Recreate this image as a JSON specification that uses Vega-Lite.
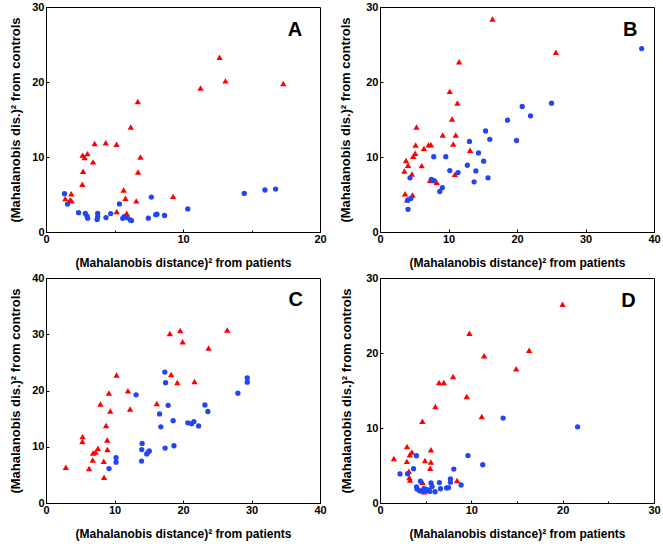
{
  "$schema": "https://vega.github.io/schema/vega-lite/v6.json",
  "background": "white",
  "padding": {"left": 8, "top": 0, "right": 5, "bottom": 5},
  "columns": 2,
  "spacing": {"row": 46, "column": 60},
  "bounds": "flush",
  "config": {
    "font": "Liberation Sans",
    "view": {"stroke": "#000000", "strokeWidth": 1},
    "axis": {
      "grid": false,
      "domainColor": "#000000",
      "domainWidth": 1,
      "tickColor": "#000000",
      "labelFont": "Liberation Sans",
      "labelFontWeight": "bold",
      "labelFontSize": 11,
      "labelColor": "#000000",
      "labelFlush": false,
      "labelOverlap": false,
      "titleFont": "Liberation Sans",
      "titleFontWeight": "bold",
      "titleColor": "#000000",
      "labelExpr": "datum.value % 10 === 0 ? datum.label : ''"
    },
    "axisX": {"titleFontSize": 12, "titleBaseline": "middle", "titleY": 30, "titleX": 137, "labelPadding": 4},
    "axisY": {"titleFontSize": 13, "titleBaseline": "middle", "titleY": 112.5, "labelPadding": 5}
  },
  "datasets": {
    "A": [
      {"x":1.41,"y":4.45,"g":"patients"},{"x":1.85,"y":5.1,"g":"patients"},{"x":1.76,"y":4.3,"g":"patients"},{"x":1.87,"y":4.15,"g":"patients"},
      {"x":2.65,"y":6.37,"g":"patients"},{"x":2.71,"y":8.1,"g":"patients"},{"x":2.67,"y":10.25,"g":"patients"},{"x":2.82,"y":9.93,"g":"patients"},
      {"x":3.03,"y":10.45,"g":"patients"},{"x":3.44,"y":9.35,"g":"patients"},{"x":3.55,"y":11.8,"g":"patients"},{"x":4.36,"y":11.9,"g":"patients"},
      {"x":5.15,"y":11.7,"g":"patients"},{"x":6.19,"y":14.0,"g":"patients"},{"x":6.7,"y":17.4,"g":"patients"},{"x":6.89,"y":10.0,"g":"patients"},
      {"x":6.72,"y":8.0,"g":"patients"},{"x":5.67,"y":5.6,"g":"patients"},{"x":5.8,"y":4.5,"g":"patients"},{"x":6.59,"y":4.15,"g":"patients"},
      {"x":5.16,"y":2.72,"g":"patients"},{"x":5.89,"y":2.5,"g":"patients"},{"x":9.28,"y":4.75,"g":"patients"},{"x":11.28,"y":19.2,"g":"patients"},
      {"x":12.67,"y":23.3,"g":"patients"},{"x":13.1,"y":20.15,"g":"patients"},{"x":17.32,"y":19.8,"g":"patients"},
      {"x":1.35,"y":5.1,"g":"controls"},{"x":1.57,"y":3.73,"g":"controls"},{"x":2.38,"y":2.58,"g":"controls"},{"x":2.87,"y":2.47,"g":"controls"},
      {"x":3.0,"y":2.1,"g":"controls"},{"x":3.04,"y":1.85,"g":"controls"},{"x":3.77,"y":2.49,"g":"controls"},{"x":3.77,"y":2.02,"g":"controls"},
      {"x":3.73,"y":1.67,"g":"controls"},{"x":4.38,"y":1.93,"g":"controls"},{"x":4.72,"y":2.46,"g":"controls"},{"x":5.36,"y":3.75,"g":"controls"},
      {"x":5.6,"y":1.82,"g":"controls"},{"x":5.7,"y":2.05,"g":"controls"},{"x":5.94,"y":1.91,"g":"controls"},{"x":6.16,"y":1.6,"g":"controls"},
      {"x":6.24,"y":1.52,"g":"controls"},{"x":7.47,"y":1.85,"g":"controls"},{"x":7.69,"y":4.66,"g":"controls"},{"x":8.01,"y":2.31,"g":"controls"},
      {"x":8.1,"y":2.38,"g":"controls"},{"x":8.65,"y":2.2,"g":"controls"},{"x":10.35,"y":3.08,"g":"controls"},{"x":14.47,"y":5.15,"g":"controls"},
      {"x":15.98,"y":5.6,"g":"controls"},{"x":16.76,"y":5.73,"g":"controls"}
    ],
    "B": [
      {"x":3.56,"y":8.13,"g":"patients"},{"x":3.8,"y":9.52,"g":"patients"},{"x":4.09,"y":8.9,"g":"patients"},{"x":4.66,"y":7.72,"g":"patients"},
      {"x":5.33,"y":14.0,"g":"patients"},{"x":5.2,"y":11.6,"g":"patients"},{"x":5.14,"y":10.5,"g":"patients"},{"x":4.85,"y":10.1,"g":"patients"},
      {"x":6.41,"y":11.15,"g":"patients"},{"x":6.09,"y":8.85,"g":"patients"},{"x":7.1,"y":11.63,"g":"patients"},{"x":7.44,"y":11.63,"g":"patients"},
      {"x":7.3,"y":6.9,"g":"patients"},{"x":7.55,"y":6.85,"g":"patients"},{"x":8.28,"y":6.64,"g":"patients"},{"x":9.16,"y":12.93,"g":"patients"},
      {"x":10.18,"y":18.75,"g":"patients"},{"x":10.52,"y":15.07,"g":"patients"},{"x":10.7,"y":11.72,"g":"patients"},{"x":11.06,"y":12.92,"g":"patients"},
      {"x":10.94,"y":7.7,"g":"patients"},{"x":11.3,"y":17.2,"g":"patients"},{"x":11.55,"y":22.7,"g":"patients"},{"x":13.15,"y":10.9,"g":"patients"},
      {"x":16.42,"y":28.4,"g":"patients"},{"x":25.68,"y":23.97,"g":"patients"},{"x":3.66,"y":5.1,"g":"patients"},{"x":4.75,"y":4.93,"g":"patients"},
      {"x":3.95,"y":4.3,"g":"patients"},
      {"x":4.09,"y":3.02,"g":"controls"},{"x":4.05,"y":4.24,"g":"controls"},{"x":4.5,"y":4.48,"g":"controls"},{"x":4.38,"y":7.23,"g":"controls"},
      {"x":7.5,"y":7.0,"g":"controls"},{"x":7.9,"y":6.86,"g":"controls"},{"x":7.85,"y":10.05,"g":"controls"},{"x":8.73,"y":5.4,"g":"controls"},
      {"x":9.1,"y":5.93,"g":"controls"},{"x":9.6,"y":10.04,"g":"controls"},{"x":10.19,"y":8.19,"g":"controls"},{"x":11.4,"y":7.93,"g":"controls"},
      {"x":12.75,"y":8.9,"g":"controls"},{"x":13.06,"y":12.08,"g":"controls"},{"x":13.74,"y":6.69,"g":"controls"},{"x":13.99,"y":8.15,"g":"controls"},
      {"x":14.38,"y":10.55,"g":"controls"},{"x":15.13,"y":9.45,"g":"controls"},{"x":15.41,"y":13.48,"g":"controls"},{"x":15.77,"y":7.22,"g":"controls"},
      {"x":16.03,"y":12.36,"g":"controls"},{"x":18.62,"y":14.91,"g":"controls"},{"x":19.93,"y":12.2,"g":"controls"},{"x":20.76,"y":16.74,"g":"controls"},
      {"x":21.97,"y":15.49,"g":"controls"},{"x":25.04,"y":17.18,"g":"controls"},{"x":38.2,"y":24.46,"g":"controls"}
    ],
    "C": [
      {"x":2.9,"y":6.36,"g":"patients"},{"x":5.34,"y":11.8,"g":"patients"},{"x":5.31,"y":10.94,"g":"patients"},{"x":6.29,"y":6.12,"g":"patients"},
      {"x":6.82,"y":7.66,"g":"patients"},{"x":6.87,"y":8.9,"g":"patients"},{"x":7.23,"y":9.05,"g":"patients"},{"x":7.58,"y":9.73,"g":"patients"},
      {"x":8.43,"y":7.43,"g":"patients"},{"x":8.48,"y":4.56,"g":"patients"},{"x":8.77,"y":13.79,"g":"patients"},{"x":8.94,"y":11.21,"g":"patients"},
      {"x":8.97,"y":9.5,"g":"patients"},{"x":7.94,"y":17.62,"g":"patients"},{"x":9.18,"y":19.54,"g":"patients"},{"x":9.38,"y":16.35,"g":"patients"},
      {"x":10.3,"y":22.76,"g":"patients"},{"x":11.96,"y":19.94,"g":"patients"},{"x":12.28,"y":16.72,"g":"patients"},{"x":16.18,"y":17.69,"g":"patients"},
      {"x":18.08,"y":30.14,"g":"patients"},{"x":18.27,"y":22.85,"g":"patients"},{"x":19.59,"y":30.67,"g":"patients"},{"x":19.95,"y":28.67,"g":"patients"},
      {"x":19.17,"y":21.41,"g":"patients"},{"x":21.68,"y":21.6,"g":"patients"},{"x":23.73,"y":27.57,"g":"patients"},{"x":26.46,"y":30.77,"g":"patients"},
      {"x":9.2,"y":6.12,"g":"controls"},{"x":10.23,"y":8.08,"g":"controls"},{"x":10.23,"y":7.25,"g":"controls"},{"x":13.15,"y":19.23,"g":"controls"},
      {"x":13.95,"y":7.46,"g":"controls"},{"x":13.98,"y":9.5,"g":"controls"},{"x":14.03,"y":10.59,"g":"controls"},{"x":14.7,"y":8.73,"g":"controls"},
      {"x":14.93,"y":9.05,"g":"controls"},{"x":15.08,"y":9.26,"g":"controls"},{"x":16.58,"y":15.83,"g":"controls"},{"x":16.76,"y":13.55,"g":"controls"},
      {"x":17.34,"y":23.28,"g":"controls"},{"x":17.46,"y":21.38,"g":"controls"},{"x":17.39,"y":9.76,"g":"controls"},{"x":17.83,"y":17.37,"g":"controls"},
      {"x":18.56,"y":14.64,"g":"controls"},{"x":18.68,"y":10.18,"g":"controls"},{"x":20.7,"y":14.26,"g":"controls"},{"x":21.24,"y":14.11,"g":"controls"},
      {"x":21.6,"y":14.47,"g":"controls"},{"x":22.28,"y":13.7,"g":"controls"},{"x":23.2,"y":17.42,"g":"controls"},{"x":23.63,"y":16.27,"g":"controls"},
      {"x":28.01,"y":19.53,"g":"controls"},{"x":29.38,"y":22.25,"g":"controls"},{"x":29.38,"y":21.48,"g":"controls"}
    ],
    "D": [
      {"x":1.52,"y":5.92,"g":"patients"},{"x":2.96,"y":7.52,"g":"patients"},{"x":2.94,"y":5.55,"g":"patients"},{"x":3.26,"y":6.43,"g":"patients"},
      {"x":3.49,"y":6.79,"g":"patients"},{"x":3.16,"y":4.24,"g":"patients"},{"x":3.22,"y":3.4,"g":"patients"},{"x":3.29,"y":3.05,"g":"patients"},
      {"x":4.64,"y":10.9,"g":"patients"},{"x":4.66,"y":2.78,"g":"patients"},{"x":4.84,"y":1.5,"g":"patients"},{"x":4.93,"y":5.68,"g":"patients"},
      {"x":5.58,"y":7.1,"g":"patients"},{"x":5.57,"y":5.46,"g":"patients"},{"x":5.5,"y":4.62,"g":"patients"},{"x":6.06,"y":12.87,"g":"patients"},
      {"x":6.47,"y":16.07,"g":"patients"},{"x":6.98,"y":16.07,"g":"patients"},{"x":8.0,"y":16.87,"g":"patients"},{"x":8.44,"y":3.0,"g":"patients"},
      {"x":9.5,"y":14.2,"g":"patients"},{"x":9.79,"y":22.64,"g":"patients"},{"x":11.14,"y":11.54,"g":"patients"},{"x":11.4,"y":19.62,"g":"patients"},
      {"x":14.91,"y":17.89,"g":"patients"},{"x":16.33,"y":20.37,"g":"patients"},{"x":19.99,"y":26.5,"g":"patients"},
      {"x":2.19,"y":3.88,"g":"controls"},{"x":3.02,"y":3.9,"g":"controls"},{"x":3.67,"y":4.57,"g":"controls"},{"x":3.99,"y":6.3,"g":"controls"},
      {"x":4.0,"y":2.15,"g":"controls"},{"x":4.07,"y":1.84,"g":"controls"},{"x":4.33,"y":1.62,"g":"controls"},{"x":4.55,"y":1.6,"g":"controls"},
      {"x":4.43,"y":2.9,"g":"controls"},{"x":4.82,"y":1.93,"g":"controls"},{"x":5.06,"y":1.8,"g":"controls"},{"x":4.95,"y":1.55,"g":"controls"},
      {"x":5.34,"y":1.71,"g":"controls"},{"x":5.45,"y":1.55,"g":"controls"},{"x":5.59,"y":2.68,"g":"controls"},{"x":5.7,"y":2.2,"g":"controls"},
      {"x":6.03,"y":1.5,"g":"controls"},{"x":6.5,"y":2.72,"g":"controls"},{"x":6.62,"y":1.9,"g":"controls"},{"x":7.29,"y":2.0,"g":"controls"},
      {"x":7.51,"y":2.06,"g":"controls"},{"x":7.71,"y":3.2,"g":"controls"},{"x":7.71,"y":2.78,"g":"controls"},{"x":8.08,"y":4.53,"g":"controls"},
      {"x":8.88,"y":2.4,"g":"controls"},{"x":9.63,"y":6.32,"g":"controls"},{"x":11.25,"y":5.1,"g":"controls"},{"x":13.48,"y":11.32,"g":"controls"},
      {"x":21.63,"y":10.16,"g":"controls"}
    ]
  },
  "concat": [
    {
      "width": 274, "height": 225,
      "layer": [
        {
          "data": {"name": "A"},
          "mark": {"type": "point", "filled": true, "opacity": 1, "strokeWidth": 0},
          "encoding": {
            "x": {"field": "x", "type": "quantitative", "scale": {"domain": [0, 20], "nice": false},
                  "axis": {"title": "(Mahalanobis distance)² from patients", "values": [0,5,10,15,20],
                           "tickSize": {"condition": {"test": "datum.value % 10 === 0", "value": -3}, "value": -2}}},
            "y": {"field": "y", "type": "quantitative", "scale": {"domain": [0, 30], "nice": false},
                  "axis": {"title": "(Mahalanobis dis.)² from controls", "values": [0,5,10,15,20,25,30], "titleX": -31,
                           "tickSize": {"condition": {"test": "datum.value % 10 === 0", "value": -3}, "value": -2}}},
            "color": {"field": "g", "type": "nominal", "scale": {"domain": ["patients", "controls"], "range": ["#FF0000", "#2346F5"]}, "legend": null},
            "shape": {"field": "g", "type": "nominal", "scale": {"domain": ["patients", "controls"], "range": ["triangle-up", "circle"]}, "legend": null},
            "size": {"field": "g", "type": "ordinal", "scale": {"domain": ["patients", "controls"], "range": [40, 28]}, "legend": null}
          }
        },
        {
          "data": {"values": [{"t": "A"}]},
          "mark": {"type": "text", "align": "right", "baseline": "alphabetic", "fontSize": 20, "fontWeight": "bold", "font": "Liberation Sans", "color": "#000000"},
          "encoding": {"text": {"field": "t"}, "x": {"datum": 18.7}, "y": {"datum": 26.1}}
        }
      ]
    },
    {
      "width": 274, "height": 225,
      "layer": [
        {
          "data": {"name": "B"},
          "mark": {"type": "point", "filled": true, "opacity": 1, "strokeWidth": 0},
          "encoding": {
            "x": {"field": "x", "type": "quantitative", "scale": {"domain": [0, 40], "nice": false},
                  "axis": {"title": "(Mahalanobis distance)² from patients", "values": [0,5,10,15,20,25,30,35,40],
                           "tickSize": {"condition": {"test": "datum.value % 10 === 0", "value": -3}, "value": -2}}},
            "y": {"field": "y", "type": "quantitative", "scale": {"domain": [0, 30], "nice": false},
                  "axis": {"title": "(Mahalanobis dis.)² from controls", "values": [0,5,10,15,20,25,30], "titleX": -35,
                           "tickSize": {"condition": {"test": "datum.value % 10 === 0", "value": -3}, "value": -2}}},
            "color": {"field": "g", "type": "nominal", "scale": {"domain": ["patients", "controls"], "range": ["#FF0000", "#2346F5"]}, "legend": null},
            "shape": {"field": "g", "type": "nominal", "scale": {"domain": ["patients", "controls"], "range": ["triangle-up", "circle"]}, "legend": null},
            "size": {"field": "g", "type": "ordinal", "scale": {"domain": ["patients", "controls"], "range": [40, 28]}, "legend": null}
          }
        },
        {
          "data": {"values": [{"t": "B"}]},
          "mark": {"type": "text", "align": "right", "baseline": "alphabetic", "fontSize": 20, "fontWeight": "bold", "font": "Liberation Sans", "color": "#000000"},
          "encoding": {"text": {"field": "t"}, "x": {"datum": 37.6}, "y": {"datum": 26.1}}
        }
      ]
    },
    {
      "width": 274, "height": 225,
      "layer": [
        {
          "data": {"name": "C"},
          "mark": {"type": "point", "filled": true, "opacity": 1, "strokeWidth": 0},
          "encoding": {
            "x": {"field": "x", "type": "quantitative", "scale": {"domain": [0, 40], "nice": false},
                  "axis": {"title": "(Mahalanobis distance)² from patients", "values": [0,5,10,15,20,25,30,35,40],
                           "tickSize": {"condition": {"test": "datum.value % 10 === 0", "value": -3}, "value": -2}}},
            "y": {"field": "y", "type": "quantitative", "scale": {"domain": [0, 40], "nice": false},
                  "axis": {"title": "(Mahalanobis dis.)² from controls", "values": [0,5,10,15,20,25,30,35,40], "titleX": -31,
                           "tickSize": {"condition": {"test": "datum.value % 10 === 0", "value": -3}, "value": -2}}},
            "color": {"field": "g", "type": "nominal", "scale": {"domain": ["patients", "controls"], "range": ["#FF0000", "#2346F5"]}, "legend": null},
            "shape": {"field": "g", "type": "nominal", "scale": {"domain": ["patients", "controls"], "range": ["triangle-up", "circle"]}, "legend": null},
            "size": {"field": "g", "type": "ordinal", "scale": {"domain": ["patients", "controls"], "range": [40, 28]}, "legend": null}
          }
        },
        {
          "data": {"values": [{"t": "C"}]},
          "mark": {"type": "text", "align": "right", "baseline": "alphabetic", "fontSize": 20, "fontWeight": "bold", "font": "Liberation Sans", "color": "#000000"},
          "encoding": {"text": {"field": "t"}, "x": {"datum": 37.5}, "y": {"datum": 35.0}}
        }
      ]
    },
    {
      "width": 274, "height": 225,
      "layer": [
        {
          "data": {"name": "D"},
          "mark": {"type": "point", "filled": true, "opacity": 1, "strokeWidth": 0},
          "encoding": {
            "x": {"field": "x", "type": "quantitative", "scale": {"domain": [0, 30], "nice": false},
                  "axis": {"title": "(Mahalanobis distance)² from patients", "values": [0,5,10,15,20,25,30],
                           "tickSize": {"condition": {"test": "datum.value % 10 === 0", "value": -3}, "value": -2}}},
            "y": {"field": "y", "type": "quantitative", "scale": {"domain": [0, 30], "nice": false},
                  "axis": {"title": "(Mahalanobis dis.)² from controls", "values": [0,5,10,15,20,25,30], "titleX": -34,
                           "tickSize": {"condition": {"test": "datum.value % 10 === 0", "value": -3}, "value": -2}}},
            "color": {"field": "g", "type": "nominal", "scale": {"domain": ["patients", "controls"], "range": ["#FF0000", "#2346F5"]}, "legend": null},
            "shape": {"field": "g", "type": "nominal", "scale": {"domain": ["patients", "controls"], "range": ["triangle-up", "circle"]}, "legend": null},
            "size": {"field": "g", "type": "ordinal", "scale": {"domain": ["patients", "controls"], "range": [40, 28]}, "legend": null}
          }
        },
        {
          "data": {"values": [{"t": "D"}]},
          "mark": {"type": "text", "align": "right", "baseline": "alphabetic", "fontSize": 20, "fontWeight": "bold", "font": "Liberation Sans", "color": "#000000"},
          "encoding": {"text": {"field": "t"}, "x": {"datum": 28.0}, "y": {"datum": 26.1}}
        }
      ]
    }
  ]
}
